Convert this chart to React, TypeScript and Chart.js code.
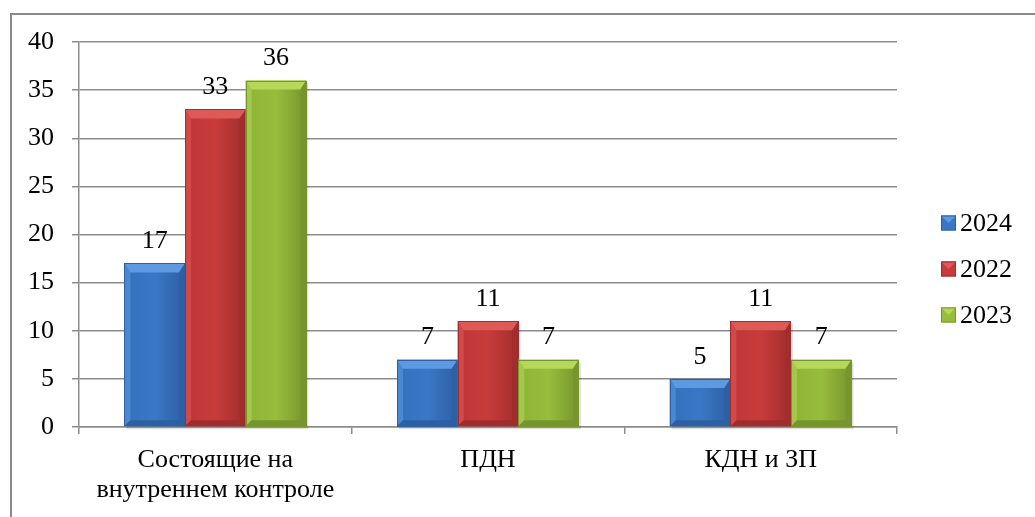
import React, { useEffect, useRef } from "react";
import { Chart, registerables } from "chart.js";

Chart.register(...registerables);

const categories: (string | string[])[] = [["Состоящие на", "внутреннем контроле"], "ПДН", "КДН и ЗП"];
const seriesNames = ["2024", "2022", "2023"];
const values2024 = [17, 7, 5];
const values2022 = [33, 11, 11];
const values2023 = [36, 7, 7];
const yMin = 0;
const yMax = 40;
const yStep = 5;

const FONT = '"Liberation Serif", "Times New Roman", serif';
const FS = 26;

const palette = [
  { main: "#3a78c6", light: "#5d9ae2", dark: "#2c5fa3", side: "#3370bd" },
  { main: "#c83b3b", light: "#de5a57", dark: "#a02d2d", side: "#bf3636" },
  { main: "#97bd3d", light: "#b5d85a", dark: "#76952c", side: "#8fb337" },
];

const bevelPlugin = {
  id: "bevelBars",
  afterDatasetsDraw(chart: any) {
    const ctx = chart.ctx as CanvasRenderingContext2D;
    chart.data.datasets.forEach((ds: any, di: number) => {
      const meta = chart.getDatasetMeta(di);
      const c = palette[di];
      meta.data.forEach((bar: any, i: number) => {
        const w = bar.width;
        const l = bar.x - w / 2;
        const r = bar.x + w / 2;
        const t = bar.y;
        const b = bar.base;
        const bv = 9;
        const sv = 6;
        ctx.save();
        ctx.fillStyle = "rgba(0,0,0,0.12)";
        ctx.fillRect(l + 2, t + 3, w, b - t);
        const g = ctx.createLinearGradient(l, 0, r, 0);
        g.addColorStop(0, c.side);
        g.addColorStop(0.5, c.main);
        g.addColorStop(1, c.dark);
        ctx.fillStyle = g;
        ctx.fillRect(l, t, w, b - t);
        ctx.beginPath();
        ctx.moveTo(l, t);
        ctx.lineTo(r, t);
        ctx.lineTo(r - sv, t + bv);
        ctx.lineTo(l + sv, t + bv);
        ctx.closePath();
        ctx.fillStyle = c.light;
        ctx.fill();
        ctx.beginPath();
        ctx.moveTo(l, t);
        ctx.lineTo(l + sv, t + bv);
        ctx.lineTo(l + sv, b - sv);
        ctx.lineTo(l, b);
        ctx.closePath();
        ctx.fillStyle = c.light;
        ctx.globalAlpha = 0.55;
        ctx.fill();
        ctx.globalAlpha = 1;
        ctx.beginPath();
        ctx.moveTo(r, t);
        ctx.lineTo(r - sv, t + bv);
        ctx.lineTo(r - sv, b - sv);
        ctx.lineTo(r, b);
        ctx.closePath();
        ctx.fillStyle = c.dark;
        ctx.globalAlpha = 0.8;
        ctx.fill();
        ctx.globalAlpha = 1;
        ctx.beginPath();
        ctx.moveTo(l, b);
        ctx.lineTo(l + sv, b - sv);
        ctx.lineTo(r - sv, b - sv);
        ctx.lineTo(r, b);
        ctx.closePath();
        ctx.fillStyle = c.dark;
        ctx.fill();
        ctx.strokeStyle = c.dark;
        ctx.lineWidth = 1;
        ctx.strokeRect(Math.round(l) + 0.5, Math.round(t) + 0.5, Math.round(w) - 1, Math.round(b - t) - 1);
        ctx.restore();

        const v = ds.data[i];
        ctx.save();
        ctx.fillStyle = "#000";
        ctx.font = `${FS}px ${FONT}`;
        ctx.textAlign = "center";
        ctx.textBaseline = "middle";
        ctx.fillText(String(v), bar.x, t - 22);
        ctx.restore();
      });
    });

    const lx = 941;
    const ys = [223, 269, 315];
    seriesNames.forEach((name, k) => {
      const c = palette[k];
      const y = ys[k];
      const s = 15;
      ctx.save();
      ctx.fillStyle = c.main;
      ctx.fillRect(lx, y - s / 2, s, s);
      ctx.beginPath();
      ctx.moveTo(lx, y - s / 2);
      ctx.lineTo(lx + s, y - s / 2);
      ctx.lineTo(lx + s / 2, y);
      ctx.closePath();
      ctx.fillStyle = c.light;
      ctx.fill();
      ctx.strokeStyle = c.dark;
      ctx.lineWidth = 1;
      ctx.strokeRect(lx + 0.5, y - s / 2 + 0.5, s - 1, s - 1);
      ctx.fillStyle = "#000";
      ctx.font = `${FS}px ${FONT}`;
      ctx.textAlign = "left";
      ctx.textBaseline = "middle";
      ctx.fillText(name, lx + 19, y + 1);
      ctx.restore();
    });
  },
};

export default function App() {
  const ref = useRef<HTMLCanvasElement | null>(null);
  useEffect(() => {
    if (!ref.current) return;
    const seriesValues = [values2024, values2022, values2023];
    const chart = new Chart(ref.current, {
      type: "bar",
      data: {
        labels: categories,
        datasets: seriesNames.map((n, k) => ({
          label: n,
          data: seriesValues[k],
          backgroundColor: "rgba(0,0,0,0)",
          borderWidth: 0,
          categoryPercentage: 0.667,
          barPercentage: 1,
        })),
      },
      options: {
        responsive: false,
        animation: false,
        layout: { padding: { top: 42, right: 138, left: 0, bottom: 0 } },
        plugins: { legend: { display: false }, tooltip: { enabled: false } },
        scales: {
          x: {
            afterFit(scale: any) {
              scale.height = 90;
            },
            grid: {
              offset: true,
              drawOnChartArea: false,
              drawTicks: true,
              tickLength: 7,
              color: "#8c8c8c",
              lineWidth: 1.5,
            },
            border: { color: "#8c8c8c", width: 1.5 },
            ticks: {
              color: "#000",
              font: { family: FONT, size: FS, lineHeight: 1.12 },
              padding: 12,
              maxRotation: 0,
              autoSkip: false,
            },
          },
          y: {
            min: yMin,
            max: yMax,
            afterFit(scale: any) {
              scale.width = 79;
            },
            grid: {
              color: "#8c8c8c",
              lineWidth: 1.5,
              tickLength: 7,
            },
            border: { color: "#8c8c8c", width: 1.5 },
            ticks: {
              stepSize: yStep,
              color: "#000",
              font: { family: FONT, size: FS },
              padding: 18,
            },
          },
        },
      },
      plugins: [bevelPlugin],
    });
    return () => chart.destroy();
  }, []);

  return (
    <div
      style={{
        position: "fixed",
        left: 0,
        top: 0,
        width: 1035,
        height: 517,
        overflow: "hidden",
        background: "#fff",
      }}
    >
      <div
        style={{
          position: "absolute",
          left: 10,
          top: 13,
          width: 1200,
          height: 700,
          borderLeft: "2px solid #8a8a8a",
          borderTop: "2px solid #8a8a8a",
          boxSizing: "border-box",
        }}
      />
      <canvas
        ref={ref}
        width={1035}
        height={517}
        style={{ position: "absolute", left: 0, top: 0, width: 1035, height: 517 }}
      />
    </div>
  );
}
